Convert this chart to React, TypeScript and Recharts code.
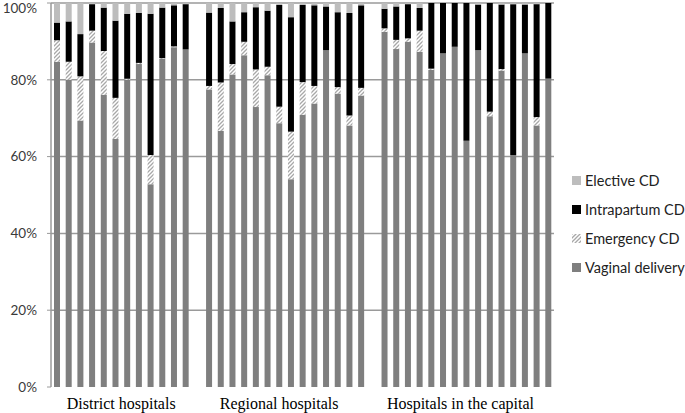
import { BarChart, Bar, XAxis, YAxis, CartesianGrid } from 'recharts';

const groupNames = ['District hospitals', 'Regional hospitals', 'Hospitals in the capital'];
const groupSizes = [12, 14, 15];

// percentages per hospital (district, regional, capital in order)
const vaginal = [
  84.7, 80.0, 69.4, 89.7, 76.1, 64.6, 80.0, 84.1, 52.8, 85.6, 88.5, 87.9,
  77.5, 66.7, 81.4, 86.4, 72.9, 81.2, 68.7, 54.1, 70.9, 73.8, 87.7, 76.4, 68.1, 75.9,
  92.5, 88.0, 89.9, 87.3, 82.6, 86.9, 88.6, 64.1, 87.7, 70.5, 82.4, 60.4, 86.9, 68.1, 80.3,
];
const emergency = [
  5.6, 4.7, 11.5, 3.1, 11.4, 10.7, 0.3, 0.3, 7.6, 0.2, 0.2, 0,
  0.9, 12.6, 2.7, 3.5, 9.8, 2.2, 4.3, 12.4, 8.5, 4.6, 0, 1.7, 2.6, 2.0,
  0.9, 2.4, 0.9, 5.5, 0.3, 0, 0, 0, 0, 1.2, 0.4, 0, 0, 2.2, 0,
];
const intrapartum = [
  4.6, 10.5, 11.0, 6.9, 11.3, 20.1, 16.9, 13.0, 36.8, 13.2, 10.7, 11.8,
  19.1, 19.4, 11.1, 7.7, 16.2, 14.6, 26.5, 29.8, 20.1, 21.0, 11.4, 19.5, 26.7, 21.5,
  5.1, 8.7, 8.9, 5.9, 17.1, 13.1, 11.4, 35.9, 11.9, 28.3, 16.8, 39.3, 12.7, 29.4, 19.7,
];
const elective = [
  5.1, 4.8, 8.1, 0.3, 1.2, 4.6, 2.8, 2.6, 2.8, 1.2, 0.6, 0.3,
  2.5, 1.3, 4.8, 2.4, 1.1, 2.0, 0.5, 3.7, 0.5, 0.6, 0.9, 2.4, 2.6, 0.6,
  1.5, 0.9, 0.3, 1.3, 0, 0, 0, 0, 0.4, 0, 0.4, 0.3, 0.4, 0.3, 0,
];
const yTicks = [0, 0.2, 0.4, 0.6, 0.8, 1];
const gridTicks = [0.2, 0.4, 0.6, 0.8, 1];

const legendItems = [
  { name: 'Elective CD', fill: '#bdbdbd' },
  { name: 'Intrapartum CD', fill: '#000000' },
  { name: 'Emergency CD', fill: 'url(#hatch)' },
  { name: 'Vaginal delivery', fill: '#7f7f7f' },
];

// rows; every group after the first starts with an empty slot
const rows: any[] = [];
const groupCenter: Record<number, { name: string; half: boolean }> = {};
let h = 0;
groupSizes.forEach((n, g) => {
  const start = rows.length;
  if (g > 0) rows.push({ key: `gap${g}` });
  const slots = rows.length - start + n;
  groupCenter[start + Math.floor((slots - 1) / 2)] = { name: groupNames[g], half: slots % 2 === 0 };
  for (let i = 0; i < n; i++, h++) {
    rows.push({
      key: `h${h}`,
      vaginal: vaginal[h],
      emergency: emergency[h],
      intrapartum: intrapartum[h],
      elective: elective[h],
    });
  }
});

const W = 685;
const H = 413;
const margin = { top: 3, right: 131, bottom: 0, left: 0 };
const yAxisWidth = 51;
const band = (W - margin.left - margin.right - yAxisWidth) / rows.length;

const GroupTick = (props: any) => {
  const { x, y, payload } = props;
  const c = groupCenter[payload.index];
  if (!c) return null;
  return (
    <text
      x={x + (c.half ? band / 2 : 0)}
      y={y + 14}
      textAnchor="middle"
      fontFamily="'Liberation Serif', 'Times New Roman', serif"
      fontSize={16}
      fill="#000"
    >
      {c.name}
    </text>
  );
};

export default function App() {
  return (
    <div style={{ position: 'absolute', left: 0, top: 0, width: W, height: H, background: '#fff' }}>
      <BarChart width={W} height={H} data={rows} margin={margin} stackOffset="expand" barSize={6}>
        <defs>
          <pattern id="hatch" patternUnits="userSpaceOnUse" width="4" height="4">
            <rect width="4" height="4" fill="#fff" />
            <path d="M-1,1 L1,-1 M0,4 L4,0 M3,5 L5,3" stroke="#a8a8a8" strokeWidth={1.3} />
          </pattern>
        </defs>
        <CartesianGrid
          vertical={false}
          stroke="#9a9a9a"
          strokeWidth={1.5}
          horizontalCoordinatesGenerator={({ offset }: any) =>
            gridTicks.map((t) => offset.top + offset.height * (1 - t))
          }
        />
        <XAxis
          dataKey="key"
          interval={0}
          axisLine={false}
          tickLine={false}
          height={26}
          tick={<GroupTick />}
        />
        <YAxis
          width={yAxisWidth}
          domain={[0, 1]}
          ticks={yTicks}
          tickFormatter={(v: number) => `${Math.round(v * 100)}%`}
          tick={{ fill: '#3a3a3a', fontSize: 13.5, fontFamily: 'Lato, sans-serif' }}
          axisLine={{ stroke: '#9a9a9a', strokeWidth: 1.5 }}
          tickLine={{ stroke: '#9a9a9a' }}
          tickSize={4}
          tickMargin={10}
        />
        <Bar dataKey="vaginal" stackId="a" fill="#7f7f7f" isAnimationActive={false} />
        <Bar dataKey="emergency" stackId="a" fill="url(#hatch)" isAnimationActive={false} />
        <Bar dataKey="intrapartum" stackId="a" fill="#000000" isAnimationActive={false} />
        <Bar dataKey="elective" stackId="a" fill="#bdbdbd" isAnimationActive={false} />
      </BarChart>
      <div style={{ position: 'absolute', left: 572, top: 166, fontFamily: 'Lato, sans-serif', fontSize: 14.5, color: '#222' }}>
        {legendItems.map((it) => (
          <div key={it.name} style={{ display: 'flex', alignItems: 'center', height: 29 }}>
            <svg width={9} height={9} style={{ marginRight: 4 }}>
              <rect width={9} height={9} fill={it.fill} />
            </svg>
            <span>{it.name}</span>
          </div>
        ))}
      </div>
    </div>
  );
}
